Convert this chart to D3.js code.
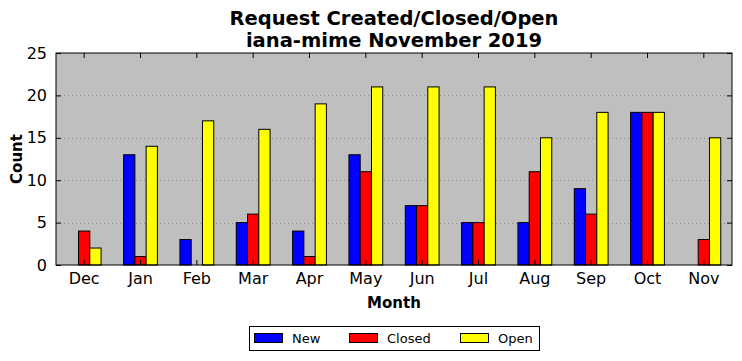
<!DOCTYPE html>
<html><head><meta charset="utf-8">
<script src="https://cdn.jsdelivr.net/npm/d3@7"></script>
<style>
body{margin:0;background:#fff;}
text{font-family:"DejaVu Sans",sans-serif;}
</style></head>
<body>
<svg id="c" width="742" height="361"></svg>
<script>
const months = ["Dec","Jan","Feb","Mar","Apr","May","Jun","Jul","Aug","Sep","Oct","Nov"];
const newVals = [0,13,3,5,4,13,7,5,5,9,18,0];
const closedVals = [4,1,0,6,1,11,7,5,11,6,18,3];
const openVals = [2,14,17,16,19,21,21,21,15,18,18,15];
const seriesNames = ["New","Closed","Open"];
const seriesColors = ["#0000ff","#ff0000","#ffff00"];
const yTicks = [0,5,10,15,20,25];
const titleLines = ["Request Created/Closed/Open","iana-mime November 2019"];

const svg = d3.select("#c");
const L=56,R=732,T=53,B=265;
const x = d3.scaleBand().domain(months).range([L,R]);
const y = d3.scaleLinear().domain([0,25]).range([B,T]);
const bw = x.bandwidth();

svg.append("rect").attr("x",L).attr("y",T).attr("width",R-L).attr("height",B-T).attr("fill","#bfbfbf");

// grid
svg.append("g").selectAll("line").data(yTicks.filter(d=>d>0&&d<25)).join("line")
  .attr("x1",L).attr("x2",R).attr("y1",d=>Math.round(y(d))+0.5).attr("y2",d=>Math.round(y(d))+0.5)
  .attr("stroke","#8c8c8c").attr("stroke-width",1).attr("stroke-dasharray","1,3");

const series = [newVals,closedVals,openVals];
series.forEach((vals,si)=>{
  svg.append("g").selectAll("rect").data(months).join("rect")
    .attr("x",(m)=>x(m)+bw*0.2+si*bw*0.2)
    .attr("y",(m,i)=>y(vals[i]))
    .attr("width",bw*0.2)
    .attr("height",(m,i)=>B-y(vals[i]))
    .attr("fill",seriesColors[si]).attr("stroke","#000").attr("stroke-width",1);
});

// axes with inward ticks
const xb = svg.append("g").attr("transform",`translate(0,${B})`)
  .call(d3.axisBottom(x).tickSize(-5).tickPadding(8));
const xt = svg.append("g").attr("transform",`translate(0,${T})`)
  .call(d3.axisTop(x).tickSize(-5).tickFormat(""));
const yl = svg.append("g").attr("transform",`translate(${L},0)`)
  .call(d3.axisLeft(y).tickValues(yTicks).tickSize(-5).tickPadding(9));
const yr = svg.append("g").attr("transform",`translate(${R},0)`)
  .call(d3.axisRight(y).tickValues(yTicks).tickSize(-5).tickFormat(""));
[xb,xt,yl,yr].forEach(g=>{
  g.select(".domain").remove();
  g.selectAll("line").attr("stroke","#000");
  g.selectAll("text").attr("font-size",16).attr("fill","#000").attr("font-family","DejaVu Sans, sans-serif");
});
svg.append("rect").attr("x",L).attr("y",T).attr("width",R-L).attr("height",B-T)
  .attr("fill","none").attr("stroke","#000").attr("stroke-width",1);

// titles
svg.append("text").attr("x",(L+R)/2).attr("y",25).attr("text-anchor","middle")
  .attr("font-size",19.5).attr("font-weight","bold").text(titleLines[0]);
svg.append("text").attr("x",(L+R)/2).attr("y",47).attr("text-anchor","middle")
  .attr("font-size",19.5).attr("font-weight","bold").text(titleLines[1]);
svg.append("text").attr("x",(L+R)/2).attr("y",308).attr("text-anchor","middle")
  .attr("font-size",15).attr("font-weight","bold").text("Month");
svg.append("text").attr("transform","translate(22,159) rotate(-90)").attr("text-anchor","middle")
  .attr("font-size",15).attr("font-weight","bold").text("Count");

// legend
const lg = svg.append("g");
lg.append("rect").attr("x",249.5).attr("y",326.5).attr("width",290).attr("height",24)
  .attr("fill","#fff").attr("stroke","#000");
const lx = [254,349,460];
seriesNames.forEach((n,i)=>{
  lg.append("rect").attr("x",lx[i]+0.5).attr("y",333.5).attr("width",28).attr("height",9)
    .attr("fill",seriesColors[i]).attr("stroke","#000");
  lg.append("text").attr("x",lx[i]+38).attr("y",343).attr("font-size",13).text(n);
});
</script>
</body></html>
